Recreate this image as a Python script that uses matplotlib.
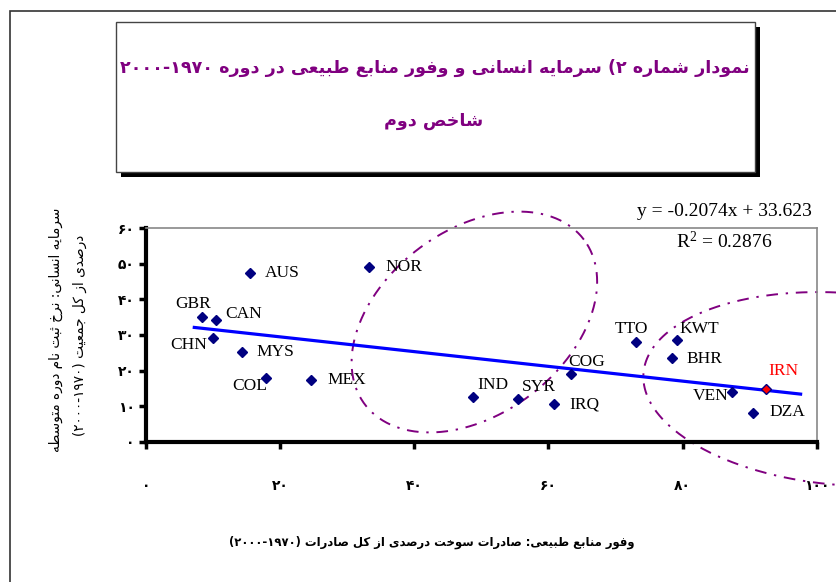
import re
import numpy as np
import matplotlib
matplotlib.use('Agg')
import matplotlib.pyplot as plt
from matplotlib.patches import Rectangle

## data -----------------------------------------------------------------
countries = ['AUS', 'NOR', 'GBR', 'CAN', 'CHN', 'MYS', 'COL', 'MEX', 'IND',
             'SYR', 'IRQ', 'COG', 'TTO', 'KWT', 'BHR', 'VEN', 'IRN', 'DZA']
fuel_exports = [15.5, 33.3, 8.3, 10.5, 10.0, 14.3, 17.9, 24.6, 48.7,
                55.4, 60.9, 63.3, 73.0, 79.2, 78.4, 87.4, 92.5, 90.5]
enrollment = [47.3, 49.2, 35.1, 34.2, 29.1, 25.3, 17.8, 17.3, 12.6,
              11.9, 10.5, 18.9, 28.1, 28.6, 23.6, 14.0, 14.7, 8.1]
highlight = 'IRN'

trend_slope = -0.2074
trend_intercept = 33.623
trend_range = [7.2, 97.6]
r_squared = 0.2876

xticks = [0, 20, 40, 60, 80, 100]
yticks = [0, 10, 20, 30, 40, 50, 60]

title_line1 = 'نمودار شماره ۲) سرمایه انسانی و وفور منابع طبیعی در دوره ۱۹۷۰-۲۰۰۰'
title_line2 = 'شاخص دوم'
xlabel = 'وفور منابع طبیعی: صادرات سوخت درصدی از کل صادرات (۱۹۷۰-۲۰۰۰)'
ylabel_line1 = 'سرمایه انسانی: نرخ ثبت نام دوره متوسطه'
ylabel_line2 = 'درصدی از کل جمعیت (۱۹۷۰-۲۰۰۰)'

## hand drawn dash-dot ellipses: centre and two conjugate half axes (data units)
ell_center = [(48.96, 33.65), (104.0, 14.8)]
ell_u = [(16.33, 23.17), (29.85, -3.46)]
ell_v = [(-8.27, 20.66), (0.0, 27.05)]

## label placement (pixel offset dx, dy, ha)
label_pos = {
    'AUS': (15, 0, 'left'), 'NOR': (16, 0, 'left'), 'GBR': (-9, 13, 'center'),
    'CAN': (9, 6, 'left'), 'CHN': (-6, -7, 'right'), 'MYS': (15, 0, 'left'),
    'COL': (1, -8, 'right'), 'MEX': (16, 0, 'left'), 'IND': (5, 12, 'left'),
    'SYR': (4, 12, 'left'), 'IRQ': (15, 0, 'left'), 'COG': (-2, 12, 'left'),
    'TTO': (-4, 13, 'center'), 'KWT': (2, 11, 'left'), 'BHR': (15, -1, 'left'),
    'VEN': (-4, -4, 'right'), 'IRN': (2, 18, 'left'), 'DZA': (16, 1, 'left'),
}

## minimal arabic shaping (matplotlib has no bidi / joining) --------------
FORMS = {
    'ا': (0xFE8D, 2), 'ب': (0xFE8F, 4), 'ت': (0xFE95, 4), 'ث': (0xFE99, 4),
    'ج': (0xFE9D, 4), 'خ': (0xFEA5, 4), 'د': (0xFEA9, 2), 'ر': (0xFEAD, 2),
    'ز': (0xFEAF, 2), 'س': (0xFEB1, 4), 'ش': (0xFEB5, 4), 'ص': (0xFEB9, 4),
    'ط': (0xFEC1, 4), 'ع': (0xFEC9, 4), 'ف': (0xFED1, 4), 'ل': (0xFEDD, 4),
    'م': (0xFEE1, 4), 'ن': (0xFEE5, 4), 'ه': (0xFEE9, 4), 'و': (0xFEED, 2),
    'ی': (0xFBFC, 4), 'ک': (0xFB8E, 4),
}

def rtl(text):
    shaped = []
    for i, c in enumerate(text):
        if c not in FORMS:
            shaped.append(c)
            continue
        base, n = FORMS[c]
        prev = i > 0 and text[i - 1] in FORMS and FORMS[text[i - 1]][1] == 4
        nxt = n == 4 and i + 1 < len(text) and text[i + 1] in FORMS
        form = 3 if prev and nxt else 1 if prev else 2 if nxt else 0
        shaped.append(chr(base + form))
    out = ''.join(reversed(shaped))
    out = re.sub('[۰-۹]+', lambda m: m.group(0)[::-1], out)
    return out.translate(str.maketrans('()', ')('))

def fa_digits(v):
    return str(v).translate(str.maketrans('0123456789', '۰۱۲۳۴۵۶۷۸۹'))

W, H = 837, 582
def fx(px):
    return px / W
def fy(py):
    return 1 - py / H

AR = ['DejaVu Sans']
SERIF = ['Liberation Serif', 'DejaVu Serif']
PURPLE = '#800080'
NAVY = '#000080'

fig = plt.figure(figsize=(W / 100, H / 100), dpi=100)

## outer frame and title box ---------------------------------------------
fig.add_artist(Rectangle((fx(10), -0.1), 1.2, fy(11) + 0.1, transform=fig.transFigure,
                         fill=False, edgecolor='#333333', lw=1.2))
fig.add_artist(Rectangle((fx(121), fy(177)), fx(755) - fx(116), fy(22) - fy(172),
                         transform=fig.transFigure, facecolor='black', edgecolor='none'))
fig.add_artist(Rectangle((fx(116), fy(172)), fx(755) - fx(116), fy(22) - fy(172),
                         transform=fig.transFigure, facecolor='white', edgecolor='#444444', lw=1))
fig.text(fx(435), fy(68), rtl(title_line1), family=AR, fontsize=12.6,
         fontweight='bold', color=PURPLE, ha='center', va='center')
fig.text(fx(434), fy(121), rtl(title_line2), family=AR, fontsize=12.6,
         fontweight='bold', color=PURPLE, ha='center', va='center')

## scatter ---------------------------------------------------------------
ax = fig.add_axes([fx(146), fy(441.7), fx(816.7) - fx(146), fy(228.3) - fy(441.7)])
ax.set_xlim(0, 100)
ax.set_ylim(0, 60)

for c, u, v in zip(ell_center, ell_u, ell_v):
    t = np.linspace(0, 2 * np.pi, 400)
    ex = c[0] + u[0] * np.cos(t) + v[0] * np.sin(t)
    ey = c[1] + u[1] * np.cos(t) + v[1] * np.sin(t)
    ax.plot(ex, ey, color=PURPLE, lw=1.4, linestyle=(0, (6, 4, 1.2, 4)),
            clip_on=False, zorder=1)

tx = np.array(trend_range)
ax.plot(tx, trend_slope * tx + trend_intercept, color='#0000FF', lw=2.3, zorder=2)

for name, x, y in zip(countries, fuel_exports, enrollment):
    face = 'red' if name == highlight else NAVY
    ax.plot(x, y, 'D', markersize=5.6, markerfacecolor=face, markeredgecolor=NAVY,
            markeredgewidth=1.0, zorder=3)
    dx, dy, ha = label_pos[name]
    ax.annotate(name, (x, y), xytext=(dx, dy), textcoords='offset pixels',
                ha=ha, va='center', family=SERIF, fontsize=12.5,
                color='red' if name == highlight else 'black', zorder=4)

ax.set_xticks(xticks, labels=[fa_digits(v) for v in xticks])
ax.set_yticks(yticks, labels=[fa_digits(v) for v in yticks])
for lab in ax.get_xticklabels() + ax.get_yticklabels():
    lab.set_family(AR)
    lab.set_fontweight('bold')
    lab.set_fontsize(10)
ax.tick_params(axis='x', direction='out', length=5, width=2.5, pad=22)
ax.tick_params(axis='y', direction='out', length=5, width=2.5, pad=3)
for s in ['left', 'bottom']:
    ax.spines[s].set_linewidth(3)
    ax.spines[s].set_color('black')
for s in ['top', 'right']:
    ax.spines[s].set_linewidth(1.2)
    ax.spines[s].set_color('#888888')

## trend equation --------------------------------------------------------
fig.text(fx(812), fy(211.7), 'y = %.4fx + %.3f' % (trend_slope, trend_intercept),
         family=SERIF, fontsize=14, ha='right', va='center')
fig.text(fx(772), fy(241.7), r'R$\mathregular{^2}$ = %.4f' % r_squared,
         family=SERIF, fontsize=14, ha='right', va='center')

## axis titles -----------------------------------------------------------
fig.text(fx(432), fy(542), rtl(xlabel), family=AR, fontsize=8.4, fontweight='bold',
         ha='center', va='center')
fig.text(fx(56), fy(330), rtl(ylabel_line1), family=AR, fontsize=9.8,
         rotation=90, ha='center', va='center')
fig.text(fx(80), fy(335), rtl(ylabel_line2), family=AR, fontsize=9.8,
         rotation=90, ha='center', va='center')

fig.savefig('out.png', dpi=100)
